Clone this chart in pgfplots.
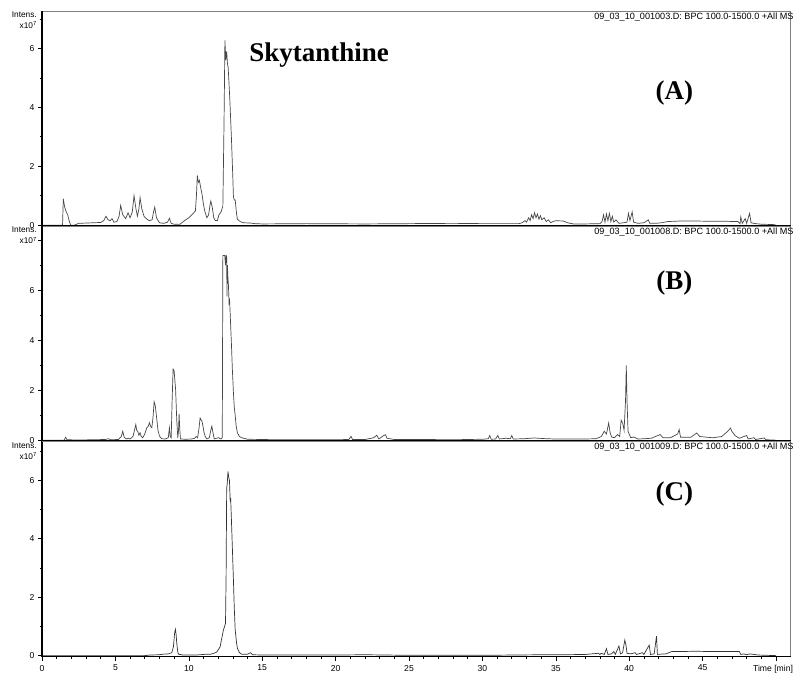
\documentclass[border=0pt]{standalone}
\usepackage{fontspec}
\setmainfont{Liberation Sans}
\newfontfamily\serifbf{Liberation Serif}
\usepackage{pgfplots}
\pgfplotsset{compat=1.18}

% three stacked chromatograms, 1px of the reference = 1pt
\pgfplotsset{
  chrom/.style={
    scale only axis, width=748.7pt, height=215pt,
    xmin=0, xmax=51,
    axis line style={draw=black!50, line width=0.8pt},
    tick align=outside, tick pos=left,
    major tick length=4pt, minor tick length=2.5pt,
    every tick/.style={black, line width=0.6pt},
    ytick={0,2,4,6}, minor ytick={1,3,5,7},
    ticklabel style={font=\fontsize{8.6}{10}\selectfont},
    /pgf/number format/assume math mode=true,
    clip=false,
  },
  trace/.style={black!72, line width=0.7pt},
}
\tikzset{
  small/.style={font=\fontsize{8.3}{9}\selectfont, inner sep=0pt},
  head/.style={font=\fontsize{9.1}{10}\selectfont, inner sep=0pt, anchor=north east},
  big/.style={font=\serifbf\bfseries\fontsize{27}{30}\selectfont, anchor=base},
}
\newcommand\frameit{\draw[black, line width=1.3pt] (rel axis cs:0,1) -- (rel axis cs:0,0) -- (rel axis cs:1,0);}

\begin{document}
\begin{tikzpicture}
\useasboundingbox (0,0) rectangle (796pt,673pt);

% ---------------- (A)
\begin{axis}[chrom, at={(42pt,447pt)}, anchor=south west,
    ymin=-0.03, ymax=7.27, xtick=\empty]
\addplot[trace] coordinates {
(0,0.0) (1.40,0.0) (1.45,0.90) (1.55,0.60) (1.65,0.45) (1.75,0.35) (1.85,0.15) (1.95,0.0) (2.2,0.0) (2.5,0.06) (3.0,0.07) (3.5,0.08) (4.0,0.09) (4.2,0.15) (4.36,0.30) (4.5,0.18) (4.65,0.15) (4.77,0.22) (4.9,0.10) (5.1,0.12) (5.25,0.30) (5.36,0.67) (5.5,0.35) (5.7,0.22) (5.86,0.42) (6.0,0.25) (6.15,0.45) (6.27,1.00) (6.4,0.55) (6.5,0.30) (6.6,0.55) (6.68,0.93) (6.8,0.55) (6.95,0.30) (7.1,0.22) (7.3,0.15) (7.5,0.18) (7.6,0.45) (7.68,0.61) (7.8,0.25) (8.0,0.08) (8.3,0.06) (8.55,0.10) (8.68,0.23) (8.8,0.06) (9.0,0.03) (9.4,0.03) (9.7,0.15) (10.0,0.25) (10.3,0.40) (10.45,0.48) (10.52,1.0) (10.58,1.69) (10.65,1.45) (10.72,1.52) (10.8,1.30) (10.9,1.05) (11.0,0.70) (11.1,0.45) (11.23,0.25) (11.35,0.35) (11.45,0.70) (11.5,0.82) (11.6,0.60) (11.7,0.25) (11.8,0.16) (11.95,0.15) (12.05,0.35) (12.2,0.45) (12.32,0.65) (12.40,3.5) (12.46,6.27) (12.52,5.6) (12.58,5.90) (12.63,5.5) (12.68,5.35) (12.72,5.0) (12.8,4.2) (12.9,3.0) (13.0,1.6) (13.04,0.97) (13.1,0.85) (13.16,0.85) (13.25,0.40) (13.31,0.20) (13.5,0.12) (13.73,0.08) (14.2,0.07) (14.5,0.05) (15,0.04) (18,0.05) (22,0.04) (25,0.05) (28,0.06) (30,0.05) (32.5,0.05) (32.7,0.08) (32.9,0.15) (33.0,0.10) (33.15,0.25) (33.25,0.15) (33.35,0.35) (33.45,0.22) (33.55,0.42) (33.65,0.25) (33.75,0.38) (33.85,0.20) (33.95,0.32) (34.05,0.18) (34.2,0.25) (34.35,0.12) (34.5,0.18) (34.65,0.08) (34.8,0.12) (35.0,0.15) (35.5,0.14) (35.8,0.08) (36.2,0.04) (37.0,0.04) (38.0,0.05) (38.15,0.12) (38.25,0.35) (38.35,0.10) (38.45,0.38) (38.55,0.15) (38.65,0.40) (38.75,0.12) (38.85,0.30) (38.95,0.10) (39.1,0.18) (39.3,0.06) (39.6,0.08) (39.85,0.10) (39.95,0.40) (40.05,0.15) (40.2,0.45) (40.3,0.10) (40.6,0.06) (41.0,0.08) (41.3,0.18) (41.4,0.06) (41.8,0.06) (42.2,0.08) (42.6,0.12) (43.5,0.14) (44.5,0.14) (45.5,0.13) (46.5,0.13) (47.4,0.12) (47.55,0.05) (47.6,0.28) (47.7,0.06) (47.9,0.22) (48.0,0.06) (48.2,0.40) (48.3,0.08) (48.6,0.05) (49.0,0.03) (49.8,0.02) (50.0,0.0)
};
\frameit
\node[small, anchor=north east] at ([xshift=-5pt,yshift=-1pt]rel axis cs:0,1) {Intens.};
\node[small, anchor=east] at ([xshift=-5pt]axis cs:0,6.78) {x10\textsuperscript{7}};
\node[head] at ([xshift=3pt,yshift=-1.5pt]rel axis cs:1,1) {09\_03\_10\_001003.D: BPC 100.0-1500.0 +All MS};
\node[big] at (axis cs:18.88,5.57) {Skytanthine};
\node[big] at (axis cs:43.08,4.27) {(A)};
\end{axis}

% ---------------- (B)
\begin{axis}[chrom, at={(42pt,232pt)}, anchor=south west,
    ymin=-0.03, ymax=8.57, xtick=\empty,
    ytick={0,2,4,6,8}, yticklabels={0,2,4,6,{}}]
\addplot[trace] coordinates {
(0,0) (1.5,0.0) (1.61,0.12) (1.7,0.02) (2.5,0.01) (3.5,0.02) (4.3,0.03) (4.52,0.06) (4.7,0.02) (5.2,0.03) (5.4,0.15) (5.5,0.36) (5.6,0.12) (5.75,0.05) (5.88,0.08) (6.0,0.05) (6.2,0.15) (6.32,0.45) (6.39,0.63) (6.45,0.40) (6.52,0.36) (6.6,0.20) (6.68,0.30) (6.76,0.15) (6.86,0.10) (7.0,0.25) (7.14,0.50) (7.23,0.55) (7.32,0.70) (7.40,0.55) (7.48,0.50) (7.56,0.90) (7.64,1.54) (7.72,1.37) (7.82,0.84) (7.9,0.40) (8.0,0.17) (8.15,0.06) (8.4,0.05) (8.6,0.10) (8.68,0.50) (8.73,0.15) (8.8,0.10) (8.86,1.5) (8.93,2.85) (9.0,2.77) (9.05,2.4) (9.1,2.04) (9.18,0.8) (9.25,0.10) (9.30,0.4) (9.34,1.05) (9.38,0.5) (9.43,0.05) (9.8,0.04) (10.2,0.05) (10.4,0.08) (10.5,0.15) (10.6,0.10) (10.7,0.5) (10.77,0.89) (10.85,0.80) (10.9,0.76) (10.97,0.55) (11.04,0.30) (11.12,0.15) (11.23,0.05) (11.4,0.10) (11.5,0.40) (11.57,0.56) (11.65,0.30) (11.73,0.05) (11.9,0.08) (12.03,0.10) (12.18,0.05) (12.28,0.10) (12.32,7.39) (12.45,7.39) (12.50,7.0) (12.54,7.39) (12.58,7.35) (12.60,5.76) (12.63,7.0) (12.66,6.56) (12.70,6.2) (12.74,5.5) (12.78,5.6) (12.82,5.03) (12.9,3.9) (12.97,2.8) (13.04,1.9) (13.1,1.3) (13.16,1.0) (13.22,0.6) (13.31,0.30) (13.45,0.15) (13.6,0.10) (14.0,0.04) (16,0.02) (20,0.02) (20.9,0.03) (21.05,0.16) (21.15,0.03) (22.0,0.03) (22.6,0.10) (22.8,0.20) (22.95,0.05) (23.25,0.18) (23.4,0.22) (23.5,0.08) (24.0,0.03) (26.0,0.03) (28.0,0.02) (30.0,0.04) (30.4,0.06) (30.5,0.19) (30.6,0.04) (30.9,0.05) (31.05,0.19) (31.15,0.05) (31.6,0.08) (31.9,0.06) (32.0,0.19) (32.1,0.05) (32.8,0.06) (33.5,0.09) (34.4,0.06) (35.0,0.05) (36.0,0.05) (37.0,0.05) (37.7,0.06) (37.9,0.10) (38.1,0.15) (38.3,0.36) (38.45,0.25) (38.6,0.69) (38.7,0.30) (38.8,0.13) (39.0,0.10) (39.2,0.23) (39.35,0.15) (39.45,0.80) (39.55,0.69) (39.65,0.40) (39.75,1.6) (39.80,2.99) (39.85,1.6) (39.92,0.36) (40.1,0.10) (40.3,0.13) (40.6,0.05) (41.0,0.06) (41.5,0.08) (42.0,0.20) (42.1,0.23) (42.3,0.10) (42.8,0.10) (43.3,0.25) (43.4,0.43) (43.5,0.12) (44.2,0.12) (44.5,0.25) (44.6,0.29) (44.8,0.15) (45.3,0.12) (45.7,0.10) (46.3,0.15) (46.7,0.35) (46.9,0.49) (47.0,0.35) (47.2,0.19) (47.5,0.08) (48.0,0.19) (48.1,0.05) (48.5,0.10) (48.6,0.03) (49.2,0.09) (49.3,0.02) (49.8,0.01) (50,0)
};
\frameit
\node[small, anchor=north east] at ([xshift=-5pt,yshift=-1pt]rel axis cs:0,1) {Intens.};
\node[small, anchor=east] at ([xshift=-5pt]axis cs:0,7.99) {x10\textsuperscript{7}};
\node[head] at ([xshift=3pt,yshift=-1.5pt]rel axis cs:1,1) {09\_03\_10\_001008.D: BPC 100.0-1500.0 +All MS};
\node[big] at (axis cs:43.08,6.03) {(B)};
\end{axis}

% ---------------- (C)
\begin{axis}[chrom, at={(42pt,16.5pt)}, anchor=south west,
    ymin=-0.03, ymax=7.33,
    xtick={0,5,10,15,20,25,30,35,40,45,50}, minor x tick num=4,
    xticklabels={0,5,10,15,20,25,30,35,40,45,{\hspace*{-6pt}Time [min]}},
    xticklabel style={yshift=-1pt}]
\addplot[trace, black!80] coordinates {
(0,0.0) (7.0,0.0) (7.36,0.02) (8.0,0.03) (8.27,0.05) (8.6,0.06) (8.84,0.10) (8.95,0.30) (9.04,0.80) (9.09,0.90) (9.14,0.70) (9.18,0.42) (9.25,0.12) (9.3,0.05) (9.6,0.02) (10.5,0.02) (11.0,0.04) (11.23,0.05) (11.5,0.05) (11.7,0.08) (11.9,0.12) (12.13,0.30) (12.36,0.88) (12.5,1.10) (12.54,2.7) (12.58,5.72) (12.62,5.9) (12.67,6.31) (12.72,6.1) (12.77,6.0) (12.82,5.27) (12.85,5.4) (12.88,4.99) (12.96,3.8) (13.04,2.58) (13.1,1.6) (13.16,0.88) (13.25,0.45) (13.31,0.25) (13.45,0.10) (13.6,0.05) (14.0,0.05) (14.2,0.10) (14.35,0.03) (15,0.02) (20,0.02) (22.0,0.03) (25,0.01) (30,0.01) (34.1,0.03) (35.5,0.03) (37.0,0.04) (37.9,0.08) (38.0,0.04) (38.1,0.08) (38.3,0.04) (38.45,0.24) (38.55,0.04) (38.8,0.06) (38.95,0.14) (39.05,0.04) (39.3,0.33) (39.4,0.06) (39.55,0.10) (39.7,0.53) (39.78,0.36) (39.85,0.08) (40.1,0.06) (40.4,0.10) (40.5,0.04) (40.9,0.10) (41.0,0.04) (41.36,0.36) (41.45,0.04) (41.7,0.06) (41.86,0.67) (41.92,0.04) (42.1,0.05) (42.5,0.06) (42.9,0.14) (43.5,0.14) (44.5,0.15) (45.5,0.14) (46.5,0.14) (47.5,0.14) (47.6,0.04) (47.8,0.06) (48.0,0.03) (48.2,0.06) (48.5,0.04) (48.8,0.02) (50,0.0)
};
\frameit
\node[small, anchor=north east] at ([xshift=-5pt,yshift=-1pt]rel axis cs:0,1) {Intens.};
\node[small, anchor=east] at ([xshift=-5pt]axis cs:0,6.82) {x10\textsuperscript{7}};
\node[head] at ([xshift=3pt,yshift=-1.5pt]rel axis cs:1,1) {09\_03\_10\_001009.D: BPC 100.0-1500.0 +All MS};
\node[big] at (axis cs:43.08,5.32) {(C)};
\end{axis}
\end{tikzpicture}
\end{document}
